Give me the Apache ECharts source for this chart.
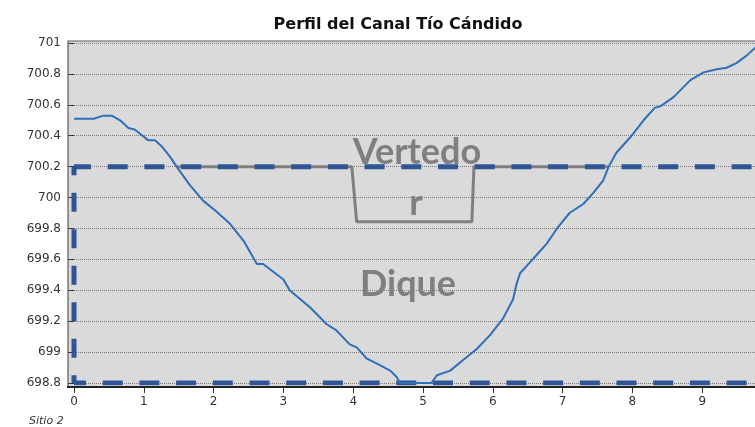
<!DOCTYPE html>
<html>
<head>
<meta charset="utf-8">
<script src="https://cdn.jsdelivr.net/npm/echarts@6/dist/echarts.min.js"></script>
<style>
html,body{margin:0;padding:0;background:#fff;}
#chart{width:755px;height:427px;}
</style>
</head>
<body>
<div id="chart"></div>
<script>
// ---- data ----
var titleText = 'Perfil del Canal Tío Cándido';
var footText = 'Sitio 2';
var xTicks = [0,1,2,3,4,5,6,7,8,9];
var yTicks = [698.8,699,699.2,699.4,699.6,699.8,700,700.2,700.4,700.6,700.8,701];
var profileX = [0,0.28,0.42,0.54,0.66,0.78,0.87,1.065,1.16,1.26,1.375,1.47,1.66,1.85,2.04,2.235,2.43,2.62,2.71,3.0,3.09,3.38,3.62,3.76,3.95,4.05,4.19,4.34,4.53,4.62,4.67,5.12,5.2,5.39,5.58,5.77,5.96,6.15,6.29,6.34,6.39,6.49,6.63,6.77,6.92,7.1,7.3,7.44,7.58,7.66,7.77,7.97,8.16,8.32,8.4,8.59,8.83,9.02,9.21,9.35,9.49,9.64,9.76];
var profileY = [700.51,700.51,700.53,700.53,700.50,700.45,700.44,700.37,700.37,700.33,700.265,700.2,700.08,699.98,699.91,699.83,699.72,699.57,699.57,699.47,699.40,699.29,699.18,699.14,699.05,699.03,698.96,698.925,698.88,698.84,698.80,698.80,698.85,698.88,698.95,699.02,699.11,699.22,699.34,699.44,699.51,699.56,699.63,699.70,699.80,699.90,699.96,700.03,700.11,700.2,700.29,700.39,700.50,700.58,700.59,700.65,700.76,700.81,700.83,700.84,700.87,700.92,700.97];
var damTopX = [0,9.8];
var damTopY = [700.2,700.2];
var damSideX = [0,0];
var damSideY = [700.2,698.8];
var damBaseX = [0,9.8];
var damBaseY = [698.8,698.8];
var weirX = [1.48,3.98,4.05,5.70,5.73,7.65];
var weirY = [700.2,700.2,699.843,699.843,700.2,700.2];
var labelTexts = ['Vertedo','r','Dique'];

function zip(a,b){return a.map(function(v,i){return [v,b[i]];});}

var chart = echarts.init(document.getElementById('chart'));
var gray = '#7f7f7f';
var dashBlue = '#2f5597';
var tickFont = '"DejaVu Sans", Verdana, sans-serif';
chart.setOption({
  animation:false,
  backgroundColor:'#ffffff',
  title:{text:titleText,left:393,textAlign:'center',top:12,
    textStyle:{fontFamily:'"DejaVu Sans", Verdana, sans-serif',fontWeight:'bold',fontSize:16,color:'#111'}},
  grid:{left:74,right:0,top:43,bottom:44,show:false},
  xAxis:{type:'value',min:0,max:(755-74)/69.8,interval:1,offset:4,
    axisLine:{show:false},
    axisTick:{show:true,length:6,lineStyle:{color:'#333',width:1}},
    axisLabel:{margin:9,color:'#333',fontFamily:tickFont,fontSize:12,showMaxLabel:false,
      formatter:function(v){return xTicks.indexOf(v)>=0?String(v):'';}},
    splitLine:{show:false}},
  yAxis:{type:'value',min:yTicks[0],max:yTicks[yTicks.length-1],interval:0.2,offset:6,
    axisLine:{show:false},
    axisTick:{show:true,length:6,lineStyle:{color:'#333',width:1}},
    axisLabel:{margin:7,color:'#333',fontFamily:tickFont,fontSize:12,
      formatter:function(v){return String(Math.round(v*10)/10);}},
    splitLine:{show:true,lineStyle:{type:'dotted',color:'#7a7a7a',width:1}}},
  graphic:{elements:[
    {type:'rect',z:-100,silent:true,shape:{x:68,y:41,width:687,height:346},style:{fill:'#dadada'}},
    {type:'polyline',z:100,silent:true,shape:{points:[[68,387],[68,41],[755,41]]},style:{stroke:'#5a5a5a',lineWidth:1.2,fill:null}},
    {type:'line',z:100,silent:true,shape:{x1:67,y1:387,x2:755,y2:387},style:{stroke:'#222',lineWidth:2}},
    {type:'text',z:50,silent:true,x:417,y:152,style:{text:labelTexts[0],fill:gray,font:'bold 36px Lato, "Open Sans", sans-serif',textAlign:'center',textVerticalAlign:'middle'}},
    {type:'text',z:50,silent:true,x:416,y:203,style:{text:labelTexts[1],fill:gray,font:'bold 36px Lato, "Open Sans", sans-serif',textAlign:'center',textVerticalAlign:'middle'}},
    {type:'text',z:50,silent:true,x:408,y:284,style:{text:labelTexts[2],fill:gray,font:'bold 36px Lato, "Open Sans", sans-serif',textAlign:'center',textVerticalAlign:'middle'}},
    {type:'text',z:50,silent:true,x:29,y:416,style:{text:footText,fill:'#333',font:'italic 11px "DejaVu Sans", sans-serif',textAlign:'left'}}
  ]},
  series:[
    {type:'line',name:'weir',data:zip(weirX,weirY),symbol:'none',z:2,
      lineStyle:{color:gray,width:3}},
    {type:'line',name:'damTop',data:zip(damTopX,damTopY),symbol:'none',z:3,
      lineStyle:{color:dashBlue,width:5,type:[20,16.7],dashOffset:3}},
    {type:'line',name:'damSide',data:zip(damSideX,damSideY),symbol:'none',z:3,
      lineStyle:{color:dashBlue,width:5,type:[19,17.5],dashOffset:10.5}},
    {type:'line',name:'damBase',data:zip(damBaseX,damBaseY),symbol:'none',z:3,
      lineStyle:{color:dashBlue,width:5,type:[20,16.7],dashOffset:8}},
    {type:'line',name:'profile',data:zip(profileX,profileY),symbol:'none',z:4,
      lineStyle:{color:'#2e6fb8',width:2}}
  ]
});
</script>
</body>
</html>
